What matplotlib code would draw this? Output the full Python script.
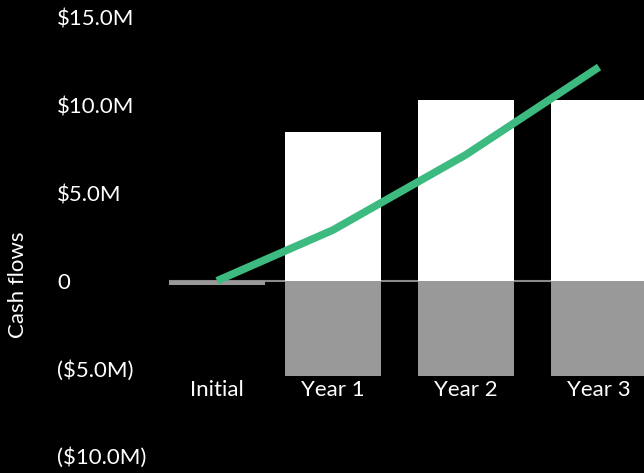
import matplotlib.pyplot as plt
import numpy as np

plt.rcParams['font.family'] = ['Lato', 'DejaVu Sans']

categories = ["Initial", "Year 1", "Year 2", "Year 3"]
inflows = [0.0, 8.5, 10.3, 10.3]      # $M
outflows = [-0.25, -5.45, -5.45, -5.45]  # $M
cumulative = [0.0, 2.9, 7.2, 12.2]     # $M
y_ticks = [-10, -5, 0, 5, 10, 15]
y_labels = ["($10.0M)", "($5.0M)", "0", "$5.0M", "$10.0M", "$15.0M"]

# category spacing is a bit tighter between Initial and Year 1
x_pos = np.array([0.0, 0.872, 1.872, 2.872])
bar_w = 0.722

fig = plt.figure(figsize=(6.44, 4.73), dpi=100, facecolor="black")
ax = fig.add_axes([169 / 644, 17 / 473, 1 - 169 / 644, 1 - 17 / 473 - 18 / 473])
ax.set_facecolor("black")

ax.axhline(0, color="#8a8a8a", lw=1.5, zorder=1)
ax.bar(x_pos, inflows, width=bar_w, color="white", zorder=2)
ax.bar(x_pos, outflows, width=bar_w, color="#999999", zorder=2)
ax.plot(x_pos, cumulative, color="#3dba80", lw=5.5, solid_capstyle="butt", zorder=3)

ax.set_xlim(-0.361, 2.872 + 0.338)
ax.set_ylim(-10, 15)
ax.set_yticks(y_ticks)
ax.set_yticklabels(y_labels)
ax.set_xticks(x_pos)
ax.set_xticklabels(categories)

for s in ["top", "right", "left"]:
    ax.spines[s].set_visible(False)
ax.spines["bottom"].set_position(("data", min(outflows)))
ax.spines["bottom"].set_visible(False)

ax.tick_params(axis="both", length=0, colors="white", labelsize=16)
ax.tick_params(axis="x", pad=3)
ax.tick_params(axis="y", pad=80.6)
for t in ax.get_yticklabels():
    t.set_ha("left")

fig.text(18 / 644, 1 - 285 / 473, "Cash flows", rotation=90, color="white",
         fontsize=16, ha="center", va="center")

plt.savefig("out.png", dpi=100, facecolor="black")
